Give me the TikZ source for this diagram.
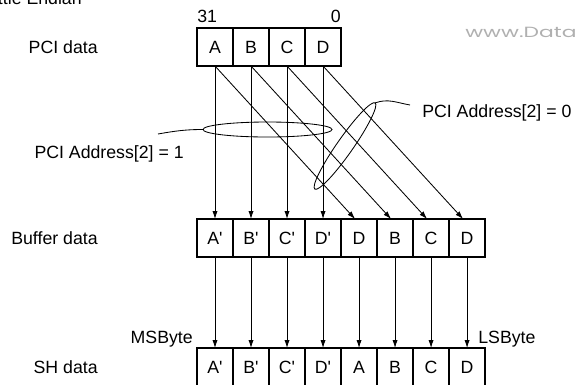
\documentclass[tikz,border=0pt]{standalone}
\usepackage{fontspec}
\setmainfont{Liberation Sans}
\newfontfamily\markfont{Poppins}
\usepackage{xcolor}
\usepackage{graphicx}
\usepackage{tikz}
\usetikzlibrary{arrows.meta, positioning, shapes.geometric}
\definecolor{MarkGray}{HTML}{B0B0B0}
\newcommand{\bytefont}{\fontsize{12.6}{15}\selectfont}
\newcommand{\pr}{\textquotesingle}

\begin{document}
\begin{tikzpicture}[
    x=0.025cm, y=-0.025cm,
    node distance=0pt,
    cell/.style={rectangle, draw, line width=1.3pt, outer sep=0pt, inner sep=0pt, minimum width=0.9cm, minimum height=0.95cm, font=\bytefont},
    lbl/.style={inner sep=0pt, font=\bytefont},
    group/.style={ellipse, draw, semithick, outer sep=0pt, inner sep=0pt},
    arrow/.style={-{Latex[length=2mm, width=1.3mm]}, semithick}
]
\useasboundingbox (0,0) rectangle (579,384);

\node[lbl, anchor=base east] (title) at (82,4) {Little Endian};
\node[anchor=base west, inner sep=0pt, text=MarkGray, font=\markfont\fontsize{10.5}{12}\selectfont] (mark) at (465,37) {\scalebox{1.48}[1]{www.Data}};

\node[cell] (p1) at (215,47) {A};
\node[cell, right=of p1] (p2) {B};
\node[cell, right=of p2] (p3) {C};
\node[cell, right=of p3] (p4) {D};

\node[cell] (b1) at (215,238) {A\pr};
\node[cell, right=of b1] (b2) {B\pr};
\node[cell, right=of b2] (b3) {C\pr};
\node[cell, right=of b3] (b4) {D\pr};
\node[cell, right=of b4] (b5) {D};
\node[cell, right=of b5] (b6) {B};
\node[cell, right=of b6] (b7) {C};
\node[cell, right=of b7] (b8) {D};

\node[cell] (s1) at (215,367) {A\pr};
\node[cell, right=of s1] (s2) {B\pr};
\node[cell, right=of s2] (s3) {C\pr};
\node[cell, right=of s3] (s4) {D\pr};
\node[cell, right=of s4] (s5) {A};
\node[cell, right=of s5] (s6) {B};
\node[cell, right=of s6] (s7) {C};
\node[cell, right=of s7] (s8) {D};

\node[lbl, left=2.475cm of p1] (pcidata) {PCI data};
\node[lbl, left=2.475cm of b1] (bufdata) {Buffer data};
\node[lbl, left=2.475cm of s1] (shdata) {SH data};

\node[lbl, anchor=base west] (msbit) at ([yshift=0.125cm]p1.north west) {31};
\node[lbl, anchor=base east] (lsbit) at ([yshift=0.125cm]p4.north east) {0};
\node[lbl, anchor=base east] (msbyte) at ([xshift=-0.1cm, yshift=0.125cm]s1.north west) {MSByte};
\node[lbl, anchor=base west] (lsbyte) at ([xshift=-0.175cm, yshift=0.125cm]s8.north east) {LSByte};

\node[group, minimum width=3.225cm, minimum height=0.375cm] (grp1) at (267.5,129.5) {};
\node[group, rotate=55, minimum width=2.63cm, minimum height=0.4cm] (grp0) at (345,146) {};
\coordinate (lead1) at (158,134);
\coordinate (lead0) at (410,105);
\node[lbl, anchor=base east] (addr1) at (184,158) {PCI Address[2] = 1};
\node[lbl, anchor=base west] (addr0) at (422,117) {PCI Address[2] = 0};

\foreach \i/\j in {p1/b1,p2/b2,p3/b3,p4/b4}{\draw[arrow] (\i) -- (\j);}
\foreach \i/\j in {p1/b5,p2/b6,p3/b7,p4/b8}{\draw[arrow] (\i.south) -- ([xshift=-0.1cm]\j.north);}
\foreach \n in {1,...,8}{\draw[arrow] (b\n) -- (s\n);}

\draw[semithick] (grp1.west) to[out=180, in=10] (lead1);
\draw[semithick] (grp0.east) to[out=20, in=170] (lead0);

\end{tikzpicture}
\end{document}
